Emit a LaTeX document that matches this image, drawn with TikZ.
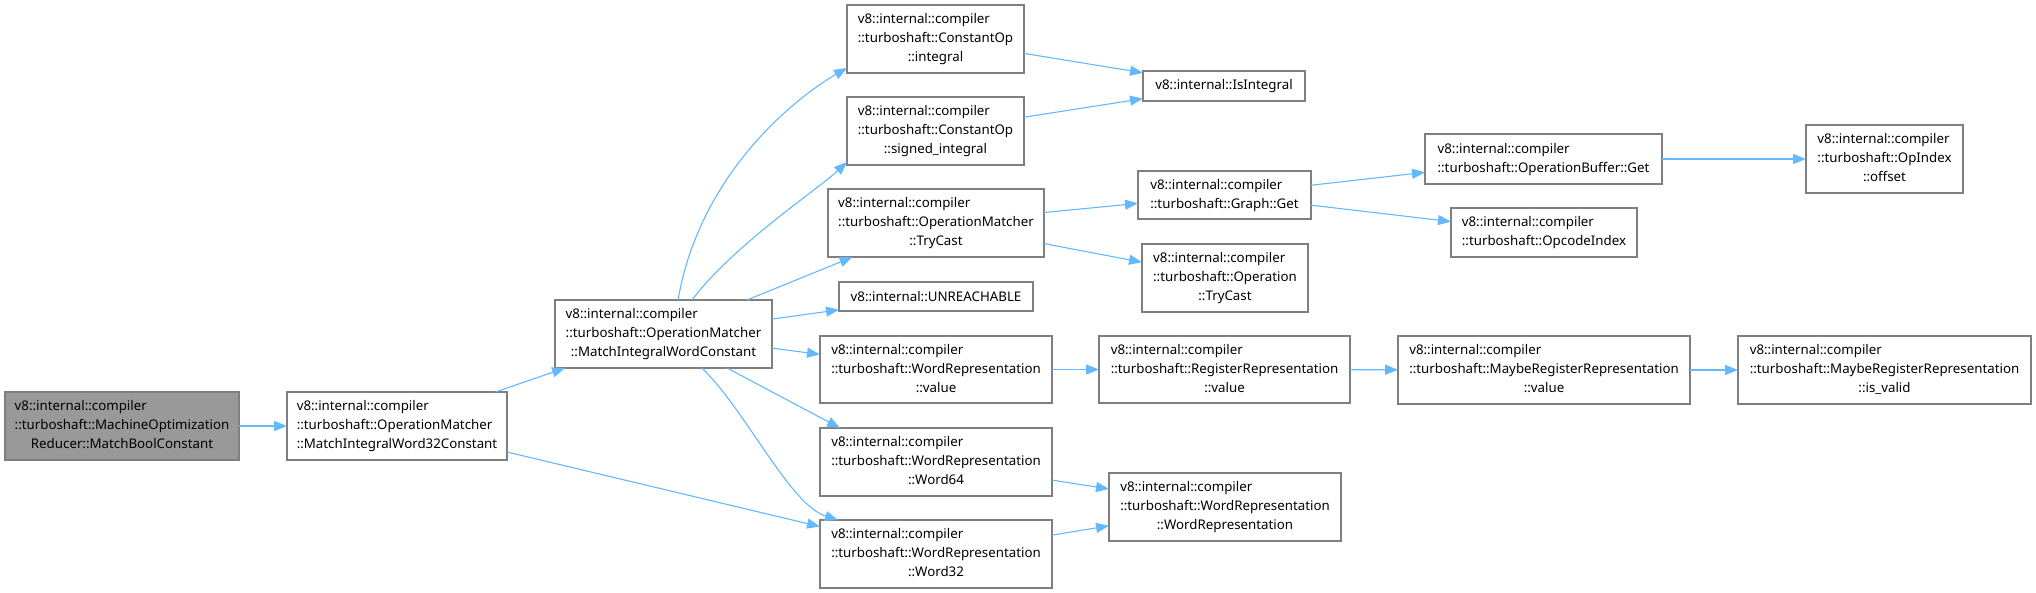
\documentclass[tikz,border=0pt]{standalone}
\usepackage{fontspec}
\setmainfont{Noto Sans}
\usetikzlibrary{arrows.meta}
\definecolor{edgec}{HTML}{63B8FF}
\definecolor{bordc}{HTML}{7F7F7F}
\definecolor{rootc}{HTML}{999999}
\newcommand\tl[3]{\begin{tabular}{@{}l@{}}#1\\#2\\\multicolumn{1}{@{}c@{}}{#3}\end{tabular}}
\newcommand\tw[2]{\begin{tabular}{@{}l@{}}#1\\\multicolumn{1}{@{}c@{}}{#2}\end{tabular}}
\newcommand\nd[6]{\node[box,minimum width={#4-#2},minimum height={#5-#3}] (#1) at ({(#2+#4)/2},{(#3+#5)/2}) {#6};}
\tikzset{
  box/.style={draw=bordc,line width=1.1pt,fill=white,inner sep=0pt,outer sep=0pt,
    font=\fontsize{13.3}{19}\selectfont,text=black},
  rootbox/.style={box,fill=rootc},
  edge/.style={draw=edgec,line width=1.1pt,-{Triangle[length=13pt,width=10pt]}}
}
\begin{document}
\begin{tikzpicture}[x=1pt,y=-1pt]
\useasboundingbox (0,0) rectangle (2036,593);
\node[rootbox,minimum width=234,minimum height=68] (A) at (122,426) {\tl{v8::internal::compiler}{::turboshaft::MachineOptimization}{Reducer::MatchBoolConstant}};
\nd{B}{287}{392}{507}{460}{\tl{v8::internal::compiler}{::turboshaft::OperationMatcher}{::MatchIntegralWord32Constant}}
\nd{MIWC}{555}{300}{772}{368}{\tl{v8::internal::compiler}{::turboshaft::OperationMatcher}{::MatchIntegralWordConstant}}
\nd{INT}{847}{5}{1024}{73}{\tl{v8::internal::compiler}{::turboshaft::ConstantOp}{::integral}}
\nd{SINT}{847}{97}{1024}{165}{\tl{v8::internal::compiler}{::turboshaft::ConstantOp}{::signed\_integral}}
\nd{TC}{828}{189}{1044}{257}{\tl{v8::internal::compiler}{::turboshaft::OperationMatcher}{::TryCast}}
\nd{UNR}{839}{282}{1033}{311}{v8::internal::UNREACHABLE}
\nd{WRV}{820}{336}{1052}{403}{\tl{v8::internal::compiler}{::turboshaft::WordRepresentation}{::value}}
\nd{W64}{820}{428}{1052}{496}{\tl{v8::internal::compiler}{::turboshaft::WordRepresentation}{::Word64}}
\nd{W32}{820}{520}{1052}{588}{\tl{v8::internal::compiler}{::turboshaft::WordRepresentation}{::Word32}}
\nd{ISI}{1143}{71}{1305}{101}{v8::internal::IsIntegral}
\nd{GG}{1138}{171}{1311}{219}{\tw{v8::internal::compiler}{::turboshaft::Graph::Get}}
\nd{OTC}{1142}{244}{1308}{312}{\tl{v8::internal::compiler}{::turboshaft::Operation}{::TryCast}}
\nd{RRV}{1099}{336}{1350}{403}{\tl{v8::internal::compiler}{::turboshaft::RegisterRepresentation}{::value}}
\nd{WRWR}{1109}{473}{1341}{541}{\tl{v8::internal::compiler}{::turboshaft::WordRepresentation}{::WordRepresentation}}
\nd{OBG}{1425}{134}{1662}{184}{\tw{v8::internal::compiler}{::turboshaft::OperationBuffer::Get}}
\nd{OPC}{1451}{208}{1637}{257}{\tw{v8::internal::compiler}{::turboshaft::OpcodeIndex}}
\nd{OFF}{1806}{125}{1963}{193}{\tl{v8::internal::compiler}{::turboshaft::OpIndex}{::offset}}
\nd{MRRV}{1398}{336}{1690}{404}{\tl{v8::internal::compiler}{::turboshaft::MaybeRegisterRepresentation}{::value}}
\nd{ISV}{1738}{336}{2031}{404}{\tl{v8::internal::compiler}{::turboshaft::MaybeRegisterRepresentation}{::is\_valid}}
% edges
\draw[edge] (A) -- (B);
\draw[edge] (B) -- (MIWC);
\draw[edge] (B) -- (W32);
\draw[edge] ([xshift=14.5pt]MIWC.north) .. controls ([xshift=37pt,yshift=130pt]MIWC.north) and ([xshift=-47pt,yshift=-22pt]INT.south west) .. ([yshift=5pt]INT.south west);
\draw[edge] ([xshift=28.5pt]MIWC.north) .. controls ([xshift=70pt,yshift=55pt]MIWC.north) and ([xshift=-30pt,yshift=-25pt]SINT.south west) .. ([yshift=3pt]SINT.south west);
\draw[edge] (MIWC) -- (TC);
\draw[edge] (MIWC) -- (UNR);
\draw[edge] (MIWC) -- (WRV);
\draw[edge] ([xshift=-45pt]MIWC.south east) -- ([xshift=20pt]W64.north west);
\draw[edge] ([xshift=38.5pt]MIWC.south) .. controls ([xshift=82pt,yshift=-42pt]MIWC.south) and ([xshift=-30pt,yshift=15pt]W32.north west) .. ([xshift=18pt]W32.north west);
\draw[edge] (INT) -- (ISI);
\draw[edge] (SINT) -- (ISI);
\draw[edge] (TC) -- (GG);
\draw[edge] (TC) -- (OTC);
\draw[edge] (GG) -- (OBG);
\draw[edge] (GG) -- (OPC);
\draw[edge] (OBG) -- (OFF);
\draw[edge] (WRV) -- (RRV);
\draw[edge] (RRV) -- (MRRV);
\draw[edge] (MRRV) -- (ISV);
\draw[edge] (W64) -- (WRWR);
\draw[edge] (W32) -- (WRWR);
\end{tikzpicture}
\end{document}
